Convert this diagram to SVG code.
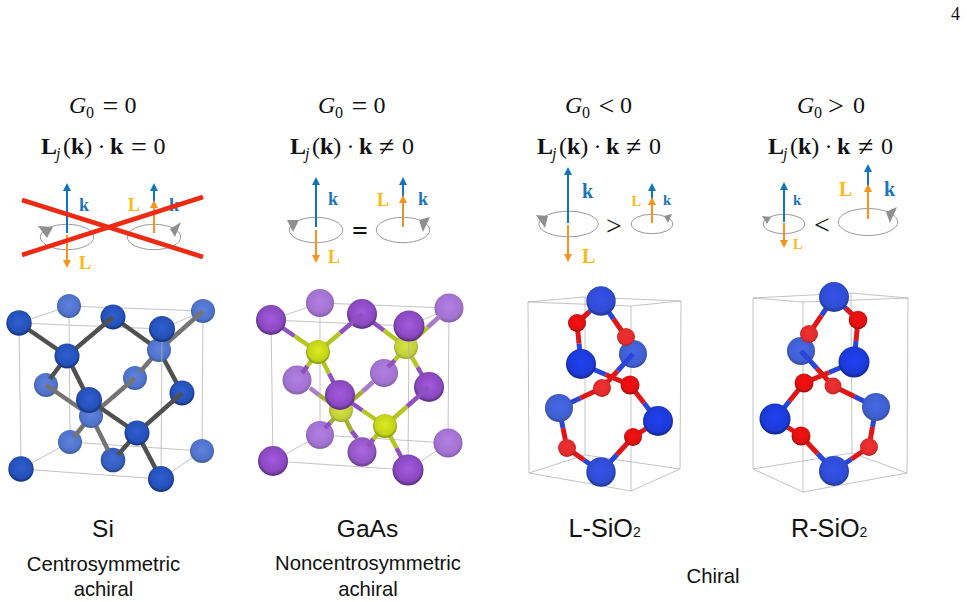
<svg xmlns="http://www.w3.org/2000/svg" width="967" height="602" viewBox="0 0 967 602">
<style>
text{font-family:"Liberation Serif","Times New Roman",serif;fill:#111}
.m{font-size:24px}.s{font-size:16px}.b{font-weight:bold}.i{font-style:italic}.q{font-size:28px}
.lab{font-family:"Liberation Sans",Arial,sans-serif;font-size:24.5px}
.sio{font-size:25.2px}
.mid{text-anchor:middle}
.sub{font-family:"Liberation Sans",Arial,sans-serif;font-size:20.3px;text-anchor:middle}
.kk{fill:#1b75bc;font-weight:bold}.ll{fill:#fdb913;font-weight:bold}
.rel{font-size:28px;text-anchor:middle}
.box{fill:none;stroke:#b4b4b4;stroke-width:.8}
.orb{fill:none;stroke:#9a9a9a;stroke-width:1}
.tri{fill:#8f8f8f}
.ka{stroke:#0f75bc;stroke-width:2;marker-end:url(#hk)}
.la{stroke:#f7931e;stroke-width:2;marker-end:url(#hl)}
.x{stroke:#ee2a12;stroke-width:4.5}
.gb{fill:none;stroke:#505050;stroke-width:4.5}.gl{fill:none;stroke:#747474;stroke-width:4.5}
.pb{fill:none;stroke:#9050c0;stroke-width:4.5}.yb{fill:none;stroke:#b4c622;stroke-width:4.5}
.pl{fill:none;stroke:#a87cc8;stroke-width:4.5}.yl{fill:none;stroke:#a4b030;stroke-width:4.5}
.bb{fill:none;stroke:#2a46d8;stroke-width:5}.rb{fill:none;stroke:#e01616;stroke-width:5}
</style>
<defs>
<marker id="hk" markerUnits="userSpaceOnUse" markerWidth="9" markerHeight="9" refX="2" refY="4" orient="auto"><path d="M0,0L8,4L0,8z" fill="#0f75bc"/></marker>
<marker id="hl" markerUnits="userSpaceOnUse" markerWidth="9" markerHeight="9" refX="2" refY="4" orient="auto"><path d="M0,0L8,4L0,8z" fill="#f7931e"/></marker>
<radialGradient id="sif" cx=".5" cy=".45" r=".52"><stop offset="0" stop-color="#2f5fd0"/><stop offset=".8" stop-color="#2450b8"/><stop offset="1" stop-color="#16357f"/></radialGradient>
<radialGradient id="sib" cx=".5" cy=".45" r=".52"><stop offset="0" stop-color="#5f82dc"/><stop offset=".8" stop-color="#4f72cc"/><stop offset="1" stop-color="#40609f"/></radialGradient>
<radialGradient id="gaf" cx=".5" cy=".45" r=".52"><stop offset="0" stop-color="#a45ade"/><stop offset=".8" stop-color="#8a48c0"/><stop offset="1" stop-color="#5e3088"/></radialGradient>
<radialGradient id="gab" cx=".5" cy=".45" r=".52"><stop offset="0" stop-color="#b280e2"/><stop offset=".8" stop-color="#a272d2"/><stop offset="1" stop-color="#8a62ac"/></radialGradient>
<radialGradient id="asf" cx=".5" cy=".45" r=".52"><stop offset="0" stop-color="#dcea20"/><stop offset=".8" stop-color="#c2d418"/><stop offset="1" stop-color="#8c9a14"/></radialGradient>
<radialGradient id="asb" cx=".5" cy=".45" r=".52"><stop offset="0" stop-color="#d6e440"/><stop offset=".8" stop-color="#c2d03a"/><stop offset="1" stop-color="#a0ac30"/></radialGradient>
<radialGradient id="bf" cx=".5" cy=".45" r=".52"><stop offset="0" stop-color="#1f40f0"/><stop offset=".8" stop-color="#1c3ad8"/><stop offset="1" stop-color="#142a98"/></radialGradient>
<radialGradient id="bl" cx=".5" cy=".45" r=".52"><stop offset="0" stop-color="#3552ea"/><stop offset=".8" stop-color="#2f4cd4"/><stop offset="1" stop-color="#243a9c"/></radialGradient>
<radialGradient id="bk" cx=".5" cy=".45" r=".52"><stop offset="0" stop-color="#4668e8"/><stop offset=".8" stop-color="#3f5fd0"/><stop offset="1" stop-color="#3a50a8"/></radialGradient>
<radialGradient id="rf" cx=".5" cy=".45" r=".52"><stop offset="0" stop-color="#f41010"/><stop offset=".8" stop-color="#e01010"/><stop offset="1" stop-color="#a00c0c"/></radialGradient>
<radialGradient id="rl" cx=".5" cy=".45" r=".52"><stop offset="0" stop-color="#f03030"/><stop offset=".8" stop-color="#e02c2c"/><stop offset="1" stop-color="#b42828"/></radialGradient>
</defs>
<rect width="967" height="602" fill="#fff"/>
<text x="951" y="20" font-size="18">4</text>

<g id="headers">
<text class="m" y="113"><tspan x="69" class="i">G</tspan><tspan x="86" y="118" class="s">0</tspan><tspan x="102.5" y="115" class="q">=</tspan><tspan x="124.5" y="113">0</tspan></text>
<text class="m" y="154"><tspan x="41" class="b">L</tspan><tspan x="56" y="159" class="s i">j</tspan><tspan x="63" y="154">(</tspan><tspan class="b">k</tspan><tspan>)</tspan><tspan x="97.5">·</tspan><tspan x="110" class="b">k</tspan><tspan x="131" y="156" class="q">=</tspan><tspan x="153.5" y="154">0</tspan></text>
<text class="m" y="113"><tspan x="318" class="i">G</tspan><tspan x="335" y="118" class="s">0</tspan><tspan x="351.5" y="115" class="q">=</tspan><tspan x="373.5" y="113">0</tspan></text>
<text class="m" y="154"><tspan x="290" class="b">L</tspan><tspan x="305" y="159" class="s i">j</tspan><tspan x="312" y="154">(</tspan><tspan class="b">k</tspan><tspan>)</tspan><tspan x="346.5">·</tspan><tspan x="359" class="b">k</tspan><tspan x="379" y="156" class="q">≠</tspan><tspan x="402" y="154">0</tspan></text>
<text class="m" y="113"><tspan x="565" class="i">G</tspan><tspan x="582" y="118" class="s">0</tspan><tspan x="598.5" y="115" class="q">&lt;</tspan><tspan x="620" y="113">0</tspan></text>
<text class="m" y="154"><tspan x="537" class="b">L</tspan><tspan x="552" y="159" class="s i">j</tspan><tspan x="559" y="154">(</tspan><tspan class="b">k</tspan><tspan>)</tspan><tspan x="593.5">·</tspan><tspan x="606" class="b">k</tspan><tspan x="626" y="156" class="q">≠</tspan><tspan x="649" y="154">0</tspan></text>
<text class="m" y="113"><tspan x="797" class="i">G</tspan><tspan x="814" y="118" class="s">0</tspan><tspan x="828" y="115" class="q">&gt;</tspan><tspan x="853" y="113">0</tspan></text>
<text class="m" y="154"><tspan x="768" class="b">L</tspan><tspan x="783" y="159" class="s i">j</tspan><tspan x="790" y="154">(</tspan><tspan class="b">k</tspan><tspan>)</tspan><tspan x="824.5">·</tspan><tspan x="837" class="b">k</tspan><tspan x="858" y="156" class="q">≠</tspan><tspan x="881" y="154">0</tspan></text>
</g>

<g id="icon-si">
<ellipse class="orb" cx="67" cy="237" rx="26.7" ry="12.7"/><path class="tri" d="M38,226L53,227L47,238z"/>
<line class="ka" x1="67" y1="233" x2="67" y2="189"/><line class="la" x1="67" y1="235" x2="67" y2="262"/>
<text class="kk" x="79" y="211" font-size="18">k</text><text class="ll" x="79" y="269" font-size="18">L</text>
<ellipse class="orb" cx="154" cy="237" rx="26.7" ry="12.7"/><path class="tri" d="M181,222L170,229L175,237z"/>
<line class="ka" x1="154" y1="213" x2="154" y2="189"/><line class="la" x1="154" y1="233" x2="154" y2="206"/>
<text class="ll" x="128" y="211" font-size="18">L</text><text class="kk" x="169" y="211" font-size="18">k</text>
<line class="x" x1="22" y1="200" x2="203" y2="257"/><line class="x" x1="22" y1="255" x2="203" y2="197"/>
</g>
<g id="icon-gaas">
<ellipse class="orb" cx="316" cy="230" rx="26.7" ry="12.7"/><path class="tri" d="M287,220L299,220L293,232z"/>
<line class="ka" x1="316" y1="227" x2="316" y2="183"/><line class="la" x1="316" y1="230" x2="316" y2="257"/>
<text class="kk" x="328" y="205" font-size="18">k</text><text class="ll" x="328" y="263" font-size="18">L</text>
<text class="rel" x="360" y="240" font-weight="bold">=</text>
<ellipse class="orb" cx="403" cy="230" rx="26.7" ry="12.7"/><path class="tri" d="M430,217L419,220L423,232z"/>
<line class="ka" x1="403" y1="205" x2="403" y2="183"/><line class="la" x1="403" y1="227" x2="403" y2="201" style="stroke:#d9982f"/>
<text class="ll" x="377" y="206" font-size="18">L</text><text class="kk" x="418" y="205" font-size="18">k</text>
</g>
<g id="icon-lsio2">
<ellipse class="orb" cx="568.5" cy="224" rx="29.7" ry="12.8"/><path class="tri" d="M536,215L548,216L545,228z"/>
<line class="ka" x1="568" y1="223" x2="568" y2="173"/><line class="la" x1="568" y1="225" x2="568" y2="256"/>
<text class="kk" x="582" y="198" font-size="20">k</text><text class="ll" x="582" y="263" font-size="20">L</text>
<text class="rel" x="614" y="234.5">&gt;</text>
<ellipse class="orb" cx="652" cy="224" rx="20.7" ry="9.7"/><path class="tri" d="M672,214L664,216L668,223z"/>
<line class="ka" x1="652" y1="200" x2="652" y2="189"/><line class="la" x1="652" y1="223" x2="652" y2="203"/>
<text class="ll" x="631.5" y="206" font-size="14.5">L</text><text class="kk" x="663" y="205" font-size="14.5">k</text>
</g>
<g id="icon-rsio2">
<ellipse class="orb" cx="784" cy="224" rx="20.7" ry="9.7"/><path class="tri" d="M762,216L771,217L767,224z"/>
<line class="ka" x1="784" y1="222" x2="784" y2="188"/><line class="la" x1="784" y1="223" x2="784" y2="242"/>
<text class="kk" x="793" y="205" font-size="14.5">k</text><text class="ll" x="793" y="249" font-size="14.5">L</text>
<text class="rel" x="822" y="233.5">&lt;</text>
<ellipse class="orb" cx="868" cy="222" rx="29.7" ry="13.5"/><path class="tri" d="M897,207L886,212L890,223z"/>
<line class="ka" x1="868" y1="190" x2="868" y2="170"/><line class="la" x1="868" y1="219" x2="868" y2="190"/>
<text class="ll" x="839" y="196" font-size="20">L</text><text class="kk" x="884" y="196" font-size="20">k</text>
</g>

<g id="crystal-si">
<path class="box" d="M19,323L69,306L203,311L162,329L19,323M19,323L21,469L161,479L202,451L70,442L21,469M69,306L70,442M203,311L202,451"/>
<g fill="url(#sib)">
<circle cx="69" cy="306" r="12"/><circle cx="203" cy="311" r="12"/><circle cx="70" cy="442" r="12"/><circle cx="202" cy="451" r="12"/><circle cx="135" cy="378" r="12"/><circle cx="46" cy="385" r="12"/>
</g>
<circle cx="113" cy="460" r="12.3" fill="url(#sif)" opacity=".92"/>
<path class="gl" d="M46,385L91,416L135,378M91,416L74,437M91,416L108,450"/>
<circle cx="91" cy="416" r="12" fill="url(#sib)"/>
<path class="gb" d="M113,317L159,350"/><path class="gl" d="M159,350L203,311M159,350L140,372"/><path class="gb" d="M159,350L182,393"/>
<circle cx="159" cy="350" r="12" fill="url(#sib)"/>
<path class="box" d="M162,329L161,479"/>
<g fill="url(#sif)"><circle cx="113" cy="317" r="12.5"/><circle cx="182" cy="393" r="12.5"/></g>
<path class="gb" d="M19,323L67,356L113,317M67,356L50,379M67,356L89,400M89,400L137,433L182,393M137,433L118,455M137,433L161,479"/>
<g fill="url(#sif)">
<circle cx="67" cy="356" r="12.5"/><circle cx="137" cy="433" r="12.5"/><circle cx="19" cy="323" r="12.7"/><circle cx="162" cy="329" r="13"/><circle cx="89" cy="400" r="13"/><circle cx="21" cy="469" r="12.7"/><circle cx="161" cy="479" r="13"/>
</g>
</g>

<g id="crystal-gaas">
<path class="box" d="M271,320L320,303L449,308L409,326L271,320M271,320L273,461L408,470L448,443L320,435L273,461M320,303L320,435M449,308L448,443"/>
<g fill="url(#gab)">
<circle cx="320" cy="303" r="14"/><circle cx="449" cy="308" r="14.5"/><circle cx="320" cy="435" r="14"/><circle cx="448" cy="443" r="14.5"/><circle cx="384" cy="373" r="14"/><circle cx="297" cy="380" r="14.5"/>
</g>
<circle cx="362" cy="452" r="14.5" fill="url(#gaf)" opacity=".92"/>
<path class="pl" d="M310,388L319,395M362.5,391.5L373,382"/><path class="pb" d="M330.5,422.5L325,428M351.5,431L357,438"/>
<path class="yl" d="M319,395L341,410L362.5,391.5M341,410L330.5,422.5M341,410L351.5,431"/>
<circle cx="341" cy="410" r="12" fill="url(#asb)"/>
<path class="pl" d="M427.5,327.5L440,316"/><path class="pb" d="M395,360L388,367M417.5,367L429,387M384,330.5L362,314"/>
<path class="yb" d="M384,330.5L406,347L427.5,327.5M406,347L395,360M406,347L417.5,367"/>
<circle cx="406" cy="347" r="12" fill="url(#asb)"/>
<path class="box" d="M409,326L408,470"/>
<g fill="url(#gaf)"><circle cx="362" cy="314" r="15"/><circle cx="429" cy="387" r="15"/></g>
<path class="pb" d="M271,320L294.5,336M362,314L340,333M307.5,366L302,373M329,373.5L340,395M340,395L362.5,410.5M429,387L407,406.5M373.5,439L368,446M396.5,448L408,470"/>
<path class="yb" d="M294.5,336L318,352L340,333M318,352L307.5,366M318,352L329,373.5M362.5,410.5L385,426L407,406.5M385,426L373.5,439M385,426L396.5,448"/>
<g fill="url(#asf)"><circle cx="318" cy="352" r="12"/><circle cx="385" cy="426" r="12"/></g>
<g fill="url(#gaf)">
<circle cx="271" cy="320" r="15"/><circle cx="409" cy="326" r="15.5"/><circle cx="340" cy="395" r="15"/><circle cx="273" cy="461" r="15"/><circle cx="408" cy="470" r="15.5"/>
</g>
</g>

<g id="crystal-lsio2">
<path class="box" d="M528,302L584,297L681,301L631,306ZM528,302L529,473L631,491L680,469L585,455L529,473M585,297L585,455M681,301L680,469M631,306L631,491"/>
<circle cx="633" cy="354" r="14" fill="url(#bk)"/>
<path class="bb" d="M633,354L617.5,371M559,408L580.5,398M559,408L563,428M601,472L584,460"/>
<path class="rb" d="M617.5,371L602,388L580.5,398M563,428L567,448L584,460"/>
<circle cx="602" cy="388" r="9" fill="url(#rl)"/><circle cx="559" cy="408" r="14" fill="url(#bk)"/><circle cx="567" cy="448" r="9" fill="url(#rl)"/>
<path class="bb" d="M601,301L589,312M601,301L613.5,319M581,364L579,343.5M658,421L645.5,429M601,472L617,454.5M658,421L644,403M581,364L605.5,374.5"/>
<path class="rb" d="M589,312L577,323L579,343.5M613.5,319L626,337M645.5,429L633,437L617,454.5M644,403L630,385L605.5,374.5"/>
<circle cx="601" cy="301" r="14.7" fill="url(#bl)"/><circle cx="601" cy="472" r="14.7" fill="url(#bl)"/>
<path class="rb" d="M589,312L577,323"/>
<circle cx="577" cy="323" r="9" fill="url(#rf)"/><circle cx="581" cy="364" r="15" fill="url(#bf)"/>
<circle cx="658" cy="421" r="15" fill="url(#bf)"/>
<circle cx="626" cy="337" r="9" fill="url(#rl)"/><circle cx="633" cy="437" r="9" fill="url(#rf)"/><circle cx="630" cy="385" r="9.5" fill="url(#rf)"/>
</g>

<g id="crystal-rsio2">
<path class="box" d="M753,298L851,293L908,298L803,302ZM753,298L753,469L803,492L907,473L852,453L753,469M851,293L852,453M908,298L907,473M803,302L803,492"/>
<circle cx="801" cy="351" r="14" fill="url(#bk)"/>
<path class="bb" d="M801,351L817,368.5M876,407L854.5,396.5M876,407L872.5,427M834,471L851.5,459"/>
<path class="rb" d="M817,368.5L833,386L854.5,396.5M872.5,427L869,447L851.5,459"/>
<circle cx="833" cy="386" r="8.5" fill="url(#rl)"/><circle cx="876" cy="407" r="14" fill="url(#bk)"/><circle cx="869" cy="447" r="9" fill="url(#rl)"/>
<path class="bb" d="M834,297L846,308.5M834,297L821.5,315.5M854,362L856,341M854,362L829,372.5M775,419L789.5,401M775,419L788,427.5M834,471L817.5,453.5"/>
<path class="rb" d="M846,308.5L858,320L856,341M821.5,315.5L809,334M829,372.5L804,383L789.5,401M788,427.5L801,436L817.5,453.5"/>
<circle cx="834" cy="297" r="15" fill="url(#bl)"/><circle cx="834" cy="471" r="15" fill="url(#bl)"/>
<path class="rb" d="M846,308.5L858,320"/>
<circle cx="858" cy="320" r="9.3" fill="url(#rf)"/><circle cx="854" cy="362" r="15.5" fill="url(#bf)"/><circle cx="775" cy="419" r="15.5" fill="url(#bf)"/>
<circle cx="809" cy="334" r="9" fill="url(#rl)"/><circle cx="801" cy="436" r="9.5" fill="url(#rf)"/><circle cx="804" cy="383" r="9.5" fill="url(#rf)"/>
</g>

<g id="labels">
<text class="lab mid" x="103" y="537">Si</text>
<text class="lab mid" x="367.5" y="537">GaAs</text>
<text class="lab sio" x="568.5" y="537">L-SiO<tspan font-size="14">2</tspan></text>
<text class="lab sio" x="791" y="537">R-SiO<tspan font-size="14">2</tspan></text>
<text class="sub" x="103.5" y="571">Centrosymmetric</text>
<text class="sub" x="103.5" y="596">achiral</text>
<text class="sub" x="368" y="570">Noncentrosymmetric</text>
<text class="sub" x="368" y="595.5">achiral</text>
<text class="sub" x="713" y="583">Chiral</text>
</g>
</svg>
